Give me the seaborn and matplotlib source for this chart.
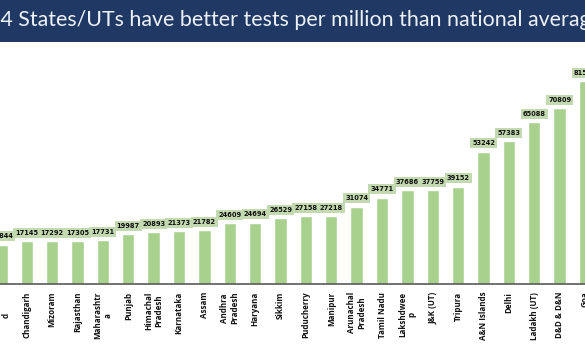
import pandas as pd
import matplotlib
matplotlib.use('Agg')
import matplotlib.pyplot as plt
from matplotlib.patches import Rectangle
import seaborn as sns

# tests per million, states/UTs above national average (left and right ends are cut in the source)
states = ['Uttarakhan\nd', 'Chandigarh', 'Mizoram', 'Rajasthan', 'Maharashtr\na', 'Punjab',
          'Himachal\nPradesh', 'Karnataka', 'Assam', 'Andhra\nPradesh', 'Haryana', 'Sikkim',
          'Puducherry', 'Manipur', 'Arunachal\nPradesh', 'Tamil Nadu', 'Lakshdwee\np', 'J&K (UT)',
          'Tripura', 'A&N Islands', 'Delhi', 'Ladakh (UT)', 'D&D & D&N', 'Goa']
tests = [15844, 17145, 17292, 17305, 17731, 19987, 20893, 21373, 21782, 24609, 24694, 26529,
         27158, 27218, 31074, 34771, 37686, 37759, 39152, 53242, 57383, 65088, 70809, 81500]

title = '24 States/UTs have better tests per million than national average'

df = pd.DataFrame({'state': states, 'tests': tests})

sns.set_style('white')
W, H = 585, 351
fig = plt.figure(figsize=(W / 100, H / 100), dpi=100)

# navy title banner
fig.patches.append(Rectangle((0, 1 - 42 / H), 1, 42 / H, transform=fig.transFigure,
                             facecolor='#1f3864', edgecolor='none', zorder=0))
fig.text(-12 / W, 1 - 20 / H, title, color='#eef2f8', fontsize=15.4, family='Lato',
         ha='left', va='center')

ax = fig.add_axes([0, 67 / H, 1, 242 / H])
sns.barplot(data=df, x='state', y='tests', color='#a9d18e', saturation=1, width=0.49, ax=ax)

for i, v in enumerate(tests):
    ax.annotate(f'{v}', (i, v), xytext=(0, 3.8), textcoords='offset points',
                ha='center', va='bottom', fontsize=4.8, fontweight='bold', color='#111111',
                bbox=dict(boxstyle='square,pad=0.3', fc='#c3d9b0', ec='none'))

ax.set_xlim(-0.055, 22.8)
ax.set_ylim(0, 97300)
ax.set_xlabel('')
ax.set_ylabel('')
ax.set_yticks([])
ax.set_xticks(range(len(states)))
ax.set_xticklabels(states, rotation=90, va='top', ha='center', fontsize=5.8,
                   fontweight='bold', color='#111111', family='Open Sans', linespacing=1.1)
ax.tick_params(axis='x', length=0, pad=5.5)
for s in ['top', 'right', 'left']:
    ax.spines[s].set_visible(False)
ax.spines['bottom'].set_color('#595959')
ax.spines['bottom'].set_linewidth(1.2)

fig.savefig('out.png', dpi=100)
